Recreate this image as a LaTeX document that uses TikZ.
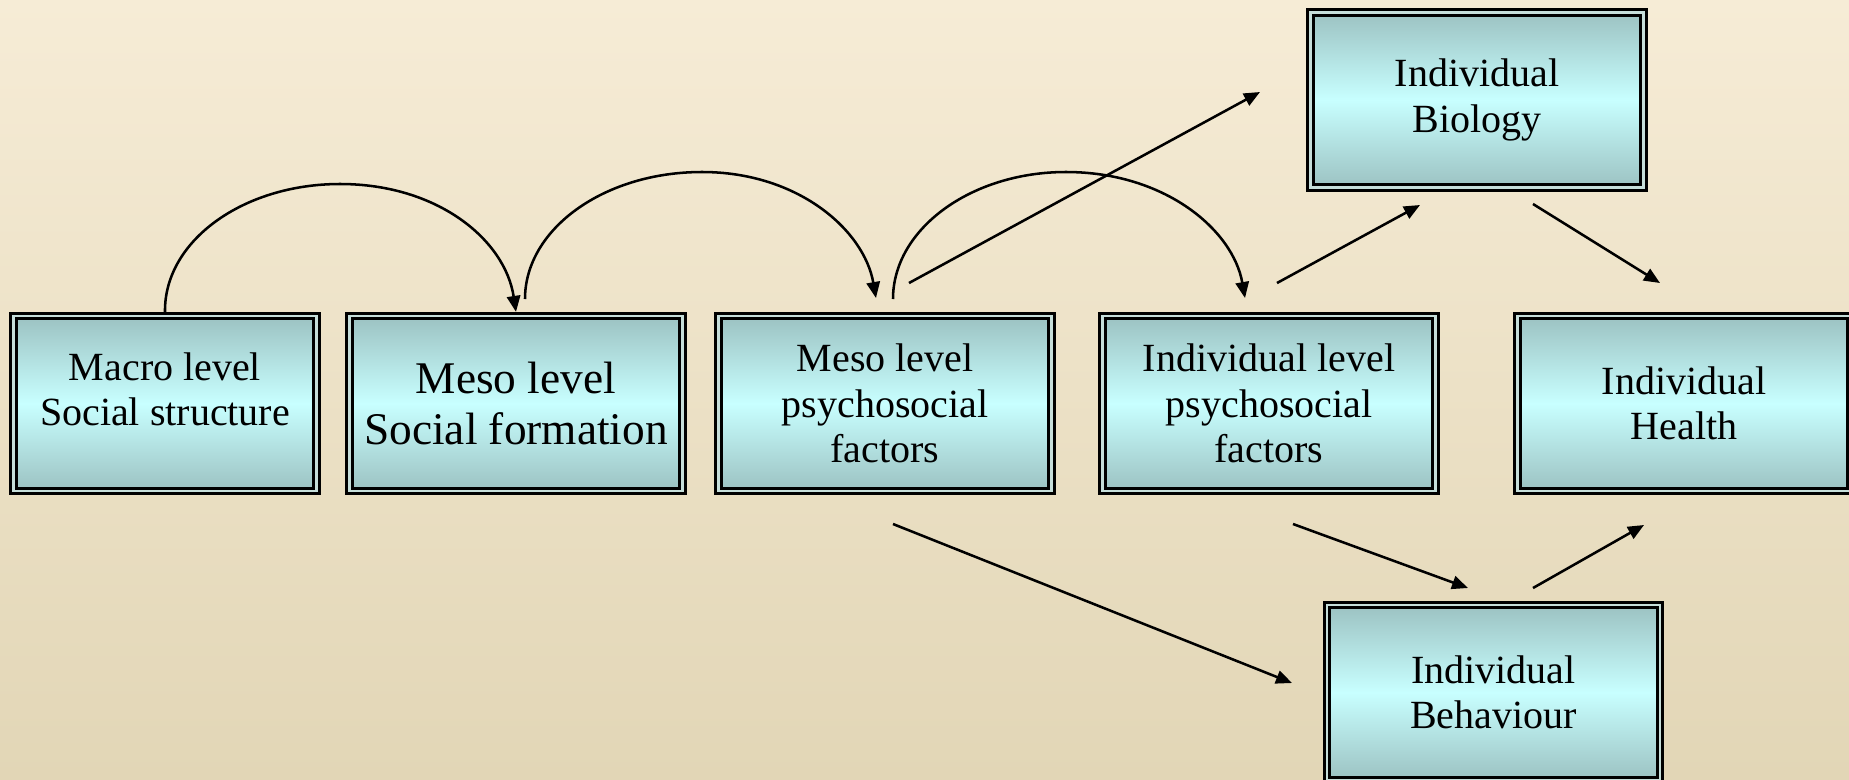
\documentclass[tikz,border=0pt]{standalone}
\usepackage{fontspec}
\setmainfont{Liberation Serif}
\usetikzlibrary{arrows.meta}
\definecolor{bgtop}{HTML}{F6ECD6}
\definecolor{bgbot}{HTML}{E2D6B6}
\definecolor{boxdark}{HTML}{9CC2C2}
\definecolor{boxlight}{HTML}{C8FFFF}
\definecolor{gapcol}{HTML}{C6DEDA}
\tikzset{
  dbox/.style={shade, top color=boxdark, bottom color=boxdark, middle color=boxlight,
    draw=black, line width=2.25pt, double=gapcol, double distance=1.9pt,
    minimum width=250pt, minimum height=131pt, inner sep=0pt, outer sep=3.2pt,
    align=center, font=\fontsize{30}{34}\selectfont},
  conn/.style={line width=1.9pt, -{Triangle[length=12pt,width=10pt]}},
  plainconn/.style={line width=1.9pt}
}
\begin{document}
\begin{tikzpicture}[x=0.75pt,y=-0.75pt]
\useasboundingbox (0,0) rectangle (1849,779);
\clip (0,0) rectangle (1849,779);
\shade[top color=bgtop, bottom color=bgbot] (0,0) rectangle (1849,779);

% boxes
\node[dbox, minimum width=227.6pt] (macro) at (165,403.5) {Macro level\\Social structure\\[-12pt]\mbox{}};
\node[dbox, font=\fontsize{34}{38}\selectfont] (meso) at (516,403.5) {Meso level\\Social formation};
\node[dbox] (psy) at (885,403.5) {Meso level\\psychosocial\\factors};
\node[dbox] (ind) at (1269,403.5) {Individual level\\psychosocial\\factors};
\node[dbox] (health) at (1684,403.5) {Individual\\Health};
\node[dbox] (bio) at (1477,100) {Individual\\Biology};
\node[dbox] (beh) at (1493.5,692.5) {Individual\\Behaviour};

% coordinates
\coordinate (a1p) at (340,184);
\coordinate (a2s) at (525,299);
\coordinate (a2p) at (702,172);
\coordinate (a2e) at (876,298);
\coordinate (a3s) at (893,299);
\coordinate (a3p) at (1066,172);
\coordinate (a3e) at (1245,298);
\coordinate (s1s) at (909,283);
\coordinate (s1e) at (1260,92);
\coordinate (s2s) at (1277,283);
\coordinate (s2e) at (1420,205);
\coordinate (s3s) at (1533,204);
\coordinate (s3e) at (1660,283);
\coordinate (s4s) at (893,524);
\coordinate (s4e) at (1292,683);
\coordinate (s5s) at (1293,524);
\coordinate (s5e) at (1468,588);
\coordinate (s6s) at (1533,588);
\coordinate (s6e) at (1644,525);

% arcs
\draw[conn] (macro.north) .. controls (164,241) and (243,184) .. (a1p)
  .. controls (438,184) and (505,240) .. (meso.north);
\draw[conn] (a2s) .. controls (525,229) and (604,172) .. (a2p)
  .. controls (798,172) and (864,230) .. (a2e);
\draw[conn] (a3s) .. controls (893,229) and (971,172) .. (a3p)
  .. controls (1165,172) and (1233,230) .. (a3e);

% straight arrows
\draw[conn] (s1s) -- (s1e);
\draw[conn] (s2s) -- (s2e);
\draw[conn] (s3s) -- (s3e);
\draw[conn] (s4s) -- (s4e);
\draw[conn] (s5s) -- (s5e);
\draw[conn] (s6s) -- (s6e);
\end{tikzpicture}
\end{document}
